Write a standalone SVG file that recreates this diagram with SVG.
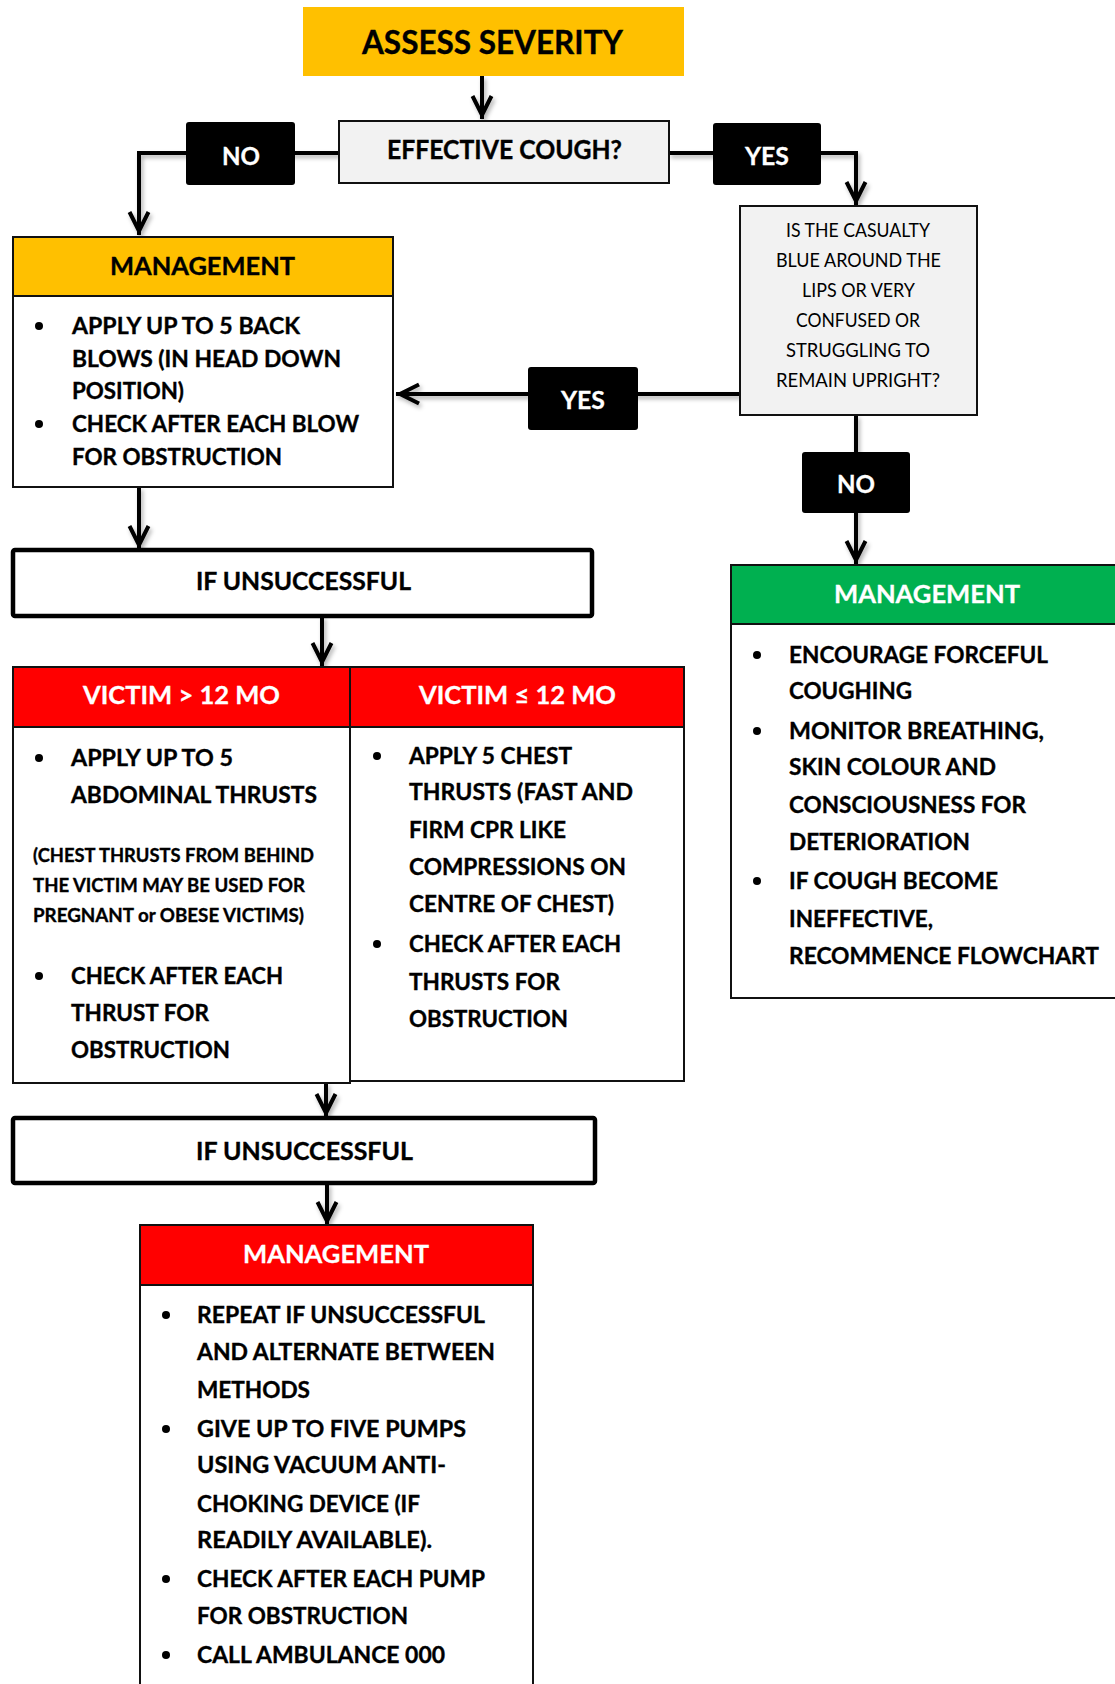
<svg xmlns="http://www.w3.org/2000/svg" width="1115" height="1684" viewBox="0 0 1115 1684">
<style>
  text { font-family: Lato, "Open Sans", "Liberation Sans", sans-serif; }
  .b { font-weight: 700; fill: #000; stroke: #000; stroke-width: 0.35; }
  .w { font-weight: 700; fill: #fff; stroke: #fff; stroke-width: 0.3; }
  .t23 { font-size: 23px; }
  .t25 { font-size: 25px; }
  .t19 { font-size: 19px; }
  .q { font-weight: 400; font-size: 19.5px; fill: #000; }
  .box { stroke: #111; stroke-width: 2; }
  .thick { fill: #fff; stroke: #000; stroke-width: 4.5; }
  .lab { fill: #000; }
  .con { fill: none; stroke: #000; stroke-width: 4; }
  .dot { fill: #000; }
</style>
<defs>
  <marker id="arr" markerUnits="userSpaceOnUse" markerWidth="40" markerHeight="40" refX="0" refY="0" orient="auto" overflow="visible">
    <path d="M-23,-9.5 L-4,0 L-23,9.5" fill="none" stroke="#000" stroke-width="4"/>
  </marker>
  <filter id="sh" x="-10%" y="-10%" width="130%" height="130%">
    <feDropShadow dx="2" dy="3" stdDeviation="2" flood-color="#000" flood-opacity="0.3"/>
  </filter>
</defs>
<rect width="1115" height="1684" fill="#fff"/>

<g id="connectors" filter="url(#sh)">
  <path class="con" d="M482,76 V119" marker-end="url(#arr)"/>
  <path class="con" d="M339,153 H139 V235" marker-end="url(#arr)"/>
  <path class="con" d="M669,153 H856 V205" marker-end="url(#arr)"/>
  <path class="con" d="M740,394 H396" marker-end="url(#arr)"/>
  <path class="con" d="M856,415 V564" marker-end="url(#arr)"/>
  <path class="con" d="M139,487 V549" marker-end="url(#arr)"/>
  <path class="con" d="M322,616 V666" marker-end="url(#arr)"/>
  <path class="con" d="M326,1083 V1117" marker-end="url(#arr)"/>
  <path class="con" d="M327,1183 V1225" marker-end="url(#arr)"/>
</g>

<g id="assess-severity">
  <rect x="303" y="7" width="381" height="69" fill="#FFC000"/>
  <text class="b" x="362" y="54" font-size="32" textLength="261" lengthAdjust="spacingAndGlyphs">ASSESS SEVERITY</text>
</g>

<g id="effective-cough">
  <rect class="box" x="339" y="121" width="330" height="62" fill="#F2F2F2"/>
  <text class="b" x="387" y="159" font-size="26.5" textLength="235" lengthAdjust="spacingAndGlyphs">EFFECTIVE COUGH?</text>
</g>

<g id="label-no-1">
  <rect class="lab" x="186" y="122" width="109" height="63" rx="3"/>
  <text class="w t25" x="222" y="165" textLength="38" lengthAdjust="spacingAndGlyphs">NO</text>
</g>

<g id="label-yes-1">
  <rect class="lab" x="713" y="123" width="108" height="62" rx="3"/>
  <text class="w t25" x="745" y="165" textLength="44" lengthAdjust="spacingAndGlyphs">YES</text>
</g>

<g id="casualty-question">
  <rect class="box" x="740" y="206" width="237" height="209" fill="#F2F2F2"/>
  <text class="q" x="786" y="237" textLength="144" lengthAdjust="spacingAndGlyphs">IS THE CASUALTY</text>
  <text class="q" x="776" y="267" textLength="165" lengthAdjust="spacingAndGlyphs">BLUE AROUND THE</text>
  <text class="q" x="802" y="297" textLength="113" lengthAdjust="spacingAndGlyphs">LIPS OR VERY</text>
  <text class="q" x="796" y="327" textLength="124" lengthAdjust="spacingAndGlyphs">CONFUSED OR</text>
  <text class="q" x="786" y="357" textLength="144" lengthAdjust="spacingAndGlyphs">STRUGGLING TO</text>
  <text class="q" x="776" y="387" textLength="164" lengthAdjust="spacingAndGlyphs">REMAIN UPRIGHT?</text>
</g>

<g id="label-yes-2">
  <rect class="lab" x="528" y="367" width="110" height="63" rx="3"/>
  <text class="w t25" x="561" y="409" textLength="44" lengthAdjust="spacingAndGlyphs">YES</text>
</g>

<g id="label-no-2">
  <rect class="lab" x="802" y="452" width="108" height="61" rx="3"/>
  <text class="w t25" x="837" y="493" textLength="38" lengthAdjust="spacingAndGlyphs">NO</text>
</g>

<g id="management-back-blows">
  <rect class="box" x="13" y="237" width="380" height="59" fill="#FFC000"/>
  <rect class="box" x="13" y="296" width="380" height="191" fill="#fff"/>
  <text class="b t25" x="110" y="275" textLength="185" lengthAdjust="spacingAndGlyphs">MANAGEMENT</text>
  <circle class="dot" cx="39" cy="326" r="4"/>
  <circle class="dot" cx="39" cy="424" r="4"/>
  <text class="b t23" x="72" y="334" textLength="228" lengthAdjust="spacingAndGlyphs">APPLY UP TO 5 BACK</text>
  <text class="b t23" x="72" y="367" textLength="269" lengthAdjust="spacingAndGlyphs">BLOWS (IN HEAD DOWN</text>
  <text class="b t23" x="72" y="399" textLength="112" lengthAdjust="spacingAndGlyphs">POSITION)</text>
  <text class="b t23" x="72" y="432" textLength="287" lengthAdjust="spacingAndGlyphs">CHECK AFTER EACH BLOW</text>
  <text class="b t23" x="72" y="465" textLength="210" lengthAdjust="spacingAndGlyphs">FOR OBSTRUCTION</text>
</g>

<g id="if-unsuccessful-1">
  <rect class="thick" x="13" y="550" width="579" height="66" rx="2"/>
  <text class="b" x="196" y="590" font-size="25.5" textLength="215" lengthAdjust="spacingAndGlyphs">IF UNSUCCESSFUL</text>
</g>

<g id="victim-over-12mo">
  <rect class="box" x="13" y="667" width="337" height="60" fill="#FF0000"/>
  <rect class="box" x="13" y="727" width="337" height="356" fill="#fff"/>
  <text class="w t25" x="83" y="704" textLength="197" lengthAdjust="spacingAndGlyphs">VICTIM &gt; 12 MO</text>
  <circle class="dot" cx="39" cy="758" r="4"/>
  <circle class="dot" cx="39" cy="976" r="4"/>
  <text class="b t23" x="71" y="766" textLength="162" lengthAdjust="spacingAndGlyphs">APPLY UP TO 5</text>
  <text class="b t23" x="71" y="803" textLength="246" lengthAdjust="spacingAndGlyphs">ABDOMINAL THRUSTS</text>
  <text class="b t19" x="33" y="862" textLength="281" lengthAdjust="spacingAndGlyphs">(CHEST THRUSTS FROM BEHIND</text>
  <text class="b t19" x="33" y="892" textLength="272" lengthAdjust="spacingAndGlyphs">THE VICTIM MAY BE USED FOR</text>
  <text class="b t19" x="33" y="922" textLength="271" lengthAdjust="spacingAndGlyphs">PREGNANT or OBESE VICTIMS)</text>
  <text class="b t23" x="71" y="984" textLength="212" lengthAdjust="spacingAndGlyphs">CHECK AFTER EACH</text>
  <text class="b t23" x="71" y="1021" textLength="138" lengthAdjust="spacingAndGlyphs">THRUST FOR</text>
  <text class="b t23" x="71" y="1058" textLength="159" lengthAdjust="spacingAndGlyphs">OBSTRUCTION</text>
</g>

<g id="victim-under-12mo">
  <rect class="box" x="350" y="667" width="334" height="60" fill="#FF0000"/>
  <rect class="box" x="350" y="727" width="334" height="354" fill="#fff"/>
  <text class="w t25" x="419" y="704" textLength="197" lengthAdjust="spacingAndGlyphs">VICTIM ≤ 12 MO</text>
  <circle class="dot" cx="377" cy="756" r="4"/>
  <circle class="dot" cx="377" cy="944" r="4"/>
  <text class="b t23" x="409" y="764" textLength="163" lengthAdjust="spacingAndGlyphs">APPLY 5 CHEST</text>
  <text class="b t23" x="409" y="800" textLength="224" lengthAdjust="spacingAndGlyphs">THRUSTS (FAST AND</text>
  <text class="b t23" x="409" y="838" textLength="157" lengthAdjust="spacingAndGlyphs">FIRM CPR LIKE</text>
  <text class="b t23" x="409" y="875" textLength="217" lengthAdjust="spacingAndGlyphs">COMPRESSIONS ON</text>
  <text class="b t23" x="409" y="912" textLength="205" lengthAdjust="spacingAndGlyphs">CENTRE OF CHEST)</text>
  <text class="b t23" x="409" y="952" textLength="212" lengthAdjust="spacingAndGlyphs">CHECK AFTER EACH</text>
  <text class="b t23" x="409" y="990" textLength="151" lengthAdjust="spacingAndGlyphs">THRUSTS FOR</text>
  <text class="b t23" x="409" y="1027" textLength="159" lengthAdjust="spacingAndGlyphs">OBSTRUCTION</text>
</g>

<g id="management-cough">
  <rect class="box" x="731" y="565" width="400" height="59" fill="#00B050"/>
  <rect class="box" x="731" y="624" width="400" height="374" fill="#fff"/>
  <text class="w t25" x="834" y="603" textLength="186" lengthAdjust="spacingAndGlyphs">MANAGEMENT</text>
  <circle class="dot" cx="757" cy="655" r="4"/>
  <circle class="dot" cx="757" cy="731" r="4"/>
  <circle class="dot" cx="757" cy="881" r="4"/>
  <text class="b t23" x="789" y="663" textLength="259" lengthAdjust="spacingAndGlyphs">ENCOURAGE FORCEFUL</text>
  <text class="b t23" x="789" y="699" textLength="123" lengthAdjust="spacingAndGlyphs">COUGHING</text>
  <text class="b t23" x="789" y="739" textLength="255" lengthAdjust="spacingAndGlyphs">MONITOR BREATHING,</text>
  <text class="b t23" x="789" y="775" textLength="207" lengthAdjust="spacingAndGlyphs">SKIN COLOUR AND</text>
  <text class="b t23" x="789" y="813" textLength="237" lengthAdjust="spacingAndGlyphs">CONSCIOUSNESS FOR</text>
  <text class="b t23" x="789" y="850" textLength="181" lengthAdjust="spacingAndGlyphs">DETERIORATION</text>
  <text class="b t23" x="789" y="889" textLength="209" lengthAdjust="spacingAndGlyphs">IF COUGH BECOME</text>
  <text class="b t23" x="789" y="927" textLength="144" lengthAdjust="spacingAndGlyphs">INEFFECTIVE,</text>
  <text class="b t23" x="789" y="964" textLength="310" lengthAdjust="spacingAndGlyphs">RECOMMENCE FLOWCHART</text>
</g>

<g id="if-unsuccessful-2">
  <rect class="thick" x="13" y="1118" width="582" height="65" rx="2"/>
  <text class="b" x="196" y="1160" font-size="25.5" textLength="217" lengthAdjust="spacingAndGlyphs">IF UNSUCCESSFUL</text>
</g>

<g id="management-final">
  <rect class="box" x="140" y="1225" width="393" height="60" fill="#FF0000"/>
  <rect class="box" x="140" y="1285" width="393" height="420" fill="#fff"/>
  <text class="w t25" x="243" y="1263" textLength="186" lengthAdjust="spacingAndGlyphs">MANAGEMENT</text>
  <circle class="dot" cx="166" cy="1315" r="4"/>
  <circle class="dot" cx="166" cy="1429" r="4"/>
  <circle class="dot" cx="166" cy="1579" r="4"/>
  <circle class="dot" cx="166" cy="1655" r="4"/>
  <text class="b t23" x="197" y="1323" textLength="288" lengthAdjust="spacingAndGlyphs">REPEAT IF UNSUCCESSFUL</text>
  <text class="b t23" x="197" y="1360" textLength="298" lengthAdjust="spacingAndGlyphs">AND ALTERNATE BETWEEN</text>
  <text class="b t23" x="197" y="1398" textLength="113" lengthAdjust="spacingAndGlyphs">METHODS</text>
  <text class="b t23" x="197" y="1437" textLength="269" lengthAdjust="spacingAndGlyphs">GIVE UP TO FIVE PUMPS</text>
  <text class="b t23" x="197" y="1473" textLength="249" lengthAdjust="spacingAndGlyphs">USING VACUUM ANTI-</text>
  <text class="b t23" x="197" y="1512" textLength="223" lengthAdjust="spacingAndGlyphs">CHOKING DEVICE (IF</text>
  <text class="b t23" x="197" y="1548" textLength="235" lengthAdjust="spacingAndGlyphs">READILY AVAILABLE).</text>
  <text class="b t23" x="197" y="1587" textLength="288" lengthAdjust="spacingAndGlyphs">CHECK AFTER EACH PUMP</text>
  <text class="b t23" x="197" y="1624" textLength="211" lengthAdjust="spacingAndGlyphs">FOR OBSTRUCTION</text>
  <text class="b t23" x="197" y="1663" textLength="248" lengthAdjust="spacingAndGlyphs">CALL AMBULANCE 000</text>
</g>
</svg>
